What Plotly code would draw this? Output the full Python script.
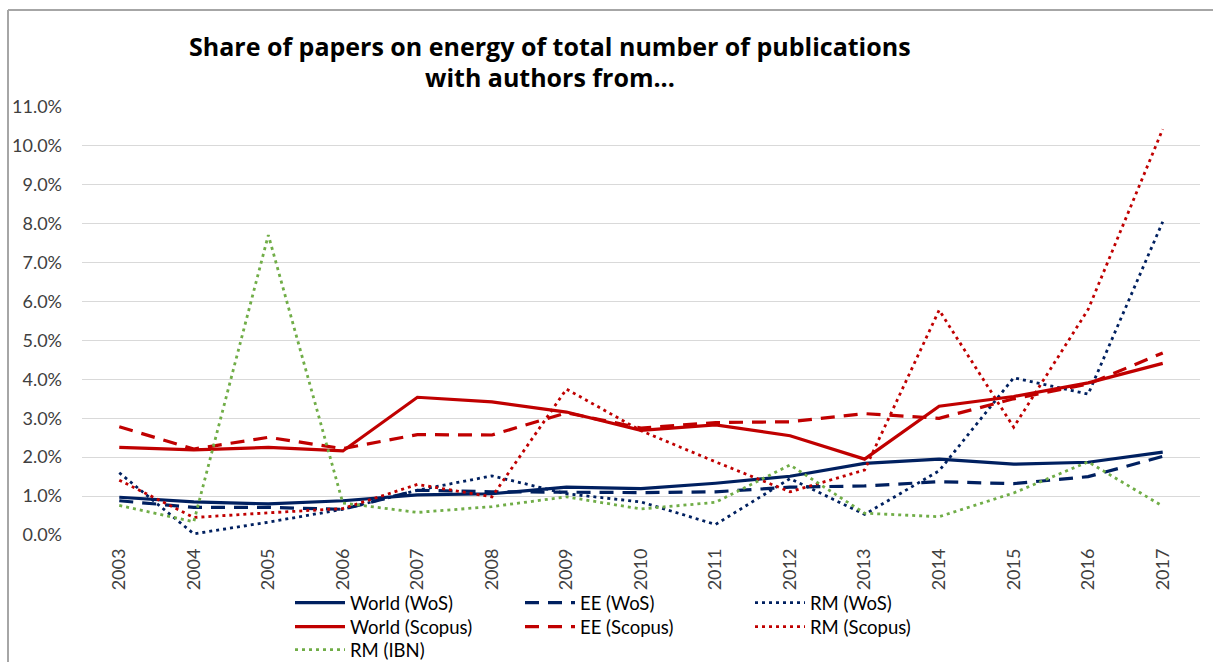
import plotly.graph_objects as go

years = [2003, 2004, 2005, 2006, 2007, 2008, 2009, 2010,
         2011, 2012, 2013, 2014, 2015, 2016, 2017]

# Share of energy papers, in percent
world_wos = [0.97, 0.85, 0.80, 0.88, 1.03, 1.06, 1.23, 1.19, 1.33, 1.51, 1.84, 1.95, 1.82, 1.87, 2.13]
ee_wos = [0.88, 0.71, 0.71, 0.66, 1.15, 1.11, 1.10, 1.09, 1.11, 1.23, 1.26, 1.37, 1.32, 1.50, 2.02]
rm_wos = [1.60, 0.03, 0.33, 0.66, 1.15, 1.52, 1.06, 0.85, 0.27, 1.45, 0.53, 1.65, 4.04, 3.62, 8.05]
world_scopus = [2.25, 2.19, 2.25, 2.16, 3.54, 3.42, 3.16, 2.69, 2.83, 2.55, 1.95, 3.31, 3.56, 3.91, 4.41]
ee_scopus = [2.78, 2.21, 2.51, 2.22, 2.58, 2.57, 3.14, 2.75, 2.89, 2.91, 3.12, 3.00, 3.50, 3.88, 4.68]
rm_scopus = [1.41, 0.45, 0.57, 0.68, 1.30, 0.98, 3.75, 2.68, 1.88, 1.11, 1.67, 5.78, 2.77, 5.80, 10.43]
rm_ibn = [0.76, 0.34, 7.71, 0.82, 0.58, 0.73, 0.98, 0.67, 0.84, 1.80, 0.56, 0.47, 1.08, 1.88, 0.74]

y_ticks = [i / 100 for i in range(0, 12)]

title_lines = ["Share of papers on energy of total number of publications",
               "with authors from..."]

NAVY = "#002060"
RED = "#C00000"
GREEN = "#70AD47"
FONT = "Lato"
DASH = "14px,9px"
DOT = "3px,4px"

W, H = 1213, 662
L, R, T, B = 82, 13, 107, 127

# name, values, colour, dash, width, legend row
series = [
    ("World (WoS)", world_wos, NAVY, "solid", 3.2, "legend"),
    ("EE (WoS)", ee_wos, NAVY, DASH, 3.2, "legend"),
    ("RM (WoS)", rm_wos, NAVY, DOT, 2.8, "legend"),
    ("World (Scopus)", world_scopus, RED, "solid", 3.2, "legend2"),
    ("EE (Scopus)", ee_scopus, RED, DASH, 3.2, "legend2"),
    ("RM (Scopus)", rm_scopus, RED, DOT, 2.8, "legend2"),
    ("RM (IBN)", rm_ibn, GREEN, DOT, 2.8, "legend3"),
]

fig = go.Figure()
for name, vals, color, dash, width, leg in series:
    fig.add_trace(go.Scatter(
        x=years,
        y=[v / 100 for v in vals],
        mode="lines",
        name=name,
        legend=leg,
        line=dict(color=color, dash=dash, width=width),
    ))


def legend_row(y_px):
    return dict(
        orientation="h",
        xref="container",
        yref="container",
        x=290 / W,
        xanchor="left",
        y=1 - y_px / H,
        yanchor="middle",
        entrywidth=165,
        entrywidthmode="pixels",
        itemwidth=50,
        font=dict(family=FONT, size=18.5, color="#000000"),
        bgcolor="rgba(0,0,0,0)",
    )


fig.update_layout(
    width=W,
    height=H,
    paper_bgcolor="white",
    plot_bgcolor="white",
    margin=dict(l=L, r=R, t=T, b=B, autoexpand=False),
    font=dict(family=FONT, size=18, color="#404040"),
    xaxis=dict(
        tickmode="array",
        tickvals=years,
        ticktext=[str(y) for y in years],
        range=[2002.5, 2017.5],
        tickangle=-90,
        showgrid=False,
        showline=False,
        zeroline=False,
        ticks="",
        automargin=False,
        ticklabelstandoff=9,
        tickfont=dict(family=FONT, size=18, color="#404040"),
    ),
    yaxis=dict(
        range=[0, 0.11],
        tickvals=y_ticks,
        tickformat=".1%",
        showgrid=True,
        gridcolor="#D9D9D9",
        gridwidth=1,
        zeroline=False,
        showline=False,
        ticks="",
        automargin=False,
        ticklabelstandoff=19,
        tickfont=dict(family=FONT, size=18, color="#404040"),
    ),
    legend=legend_row(603),
    legend2=legend_row(627),
    legend3=legend_row(650),
    showlegend=True,
)

# Two-line chart title
pw, ph = W - L - R, H - T - B
for text, y_px in zip(title_lines, [46, 77]):
    fig.add_annotation(
        text=text, xref="paper", yref="paper",
        x=(550 - L) / pw, y=(H - B - y_px) / ph,
        xanchor="center", yanchor="middle", showarrow=False,
        font=dict(family="Open Sans", size=25, color="#000000", weight="bold"),
    )

# Outer chart frame (top and left edges)
frame_color = "#A6A6A6"
fx0 = (8 - L) / pw
fy0 = (H - B - 10) / ph
fig.add_shape(type="line", xref="paper", yref="paper",
              x0=fx0, x1=(W - L) / pw, y0=fy0, y1=fy0,
              line=dict(color=frame_color, width=2))
fig.add_shape(type="line", xref="paper", yref="paper",
              x0=fx0, x1=fx0, y0=fy0, y1=-B / ph,
              line=dict(color=frame_color, width=2))

fig.write_html("out.html")
